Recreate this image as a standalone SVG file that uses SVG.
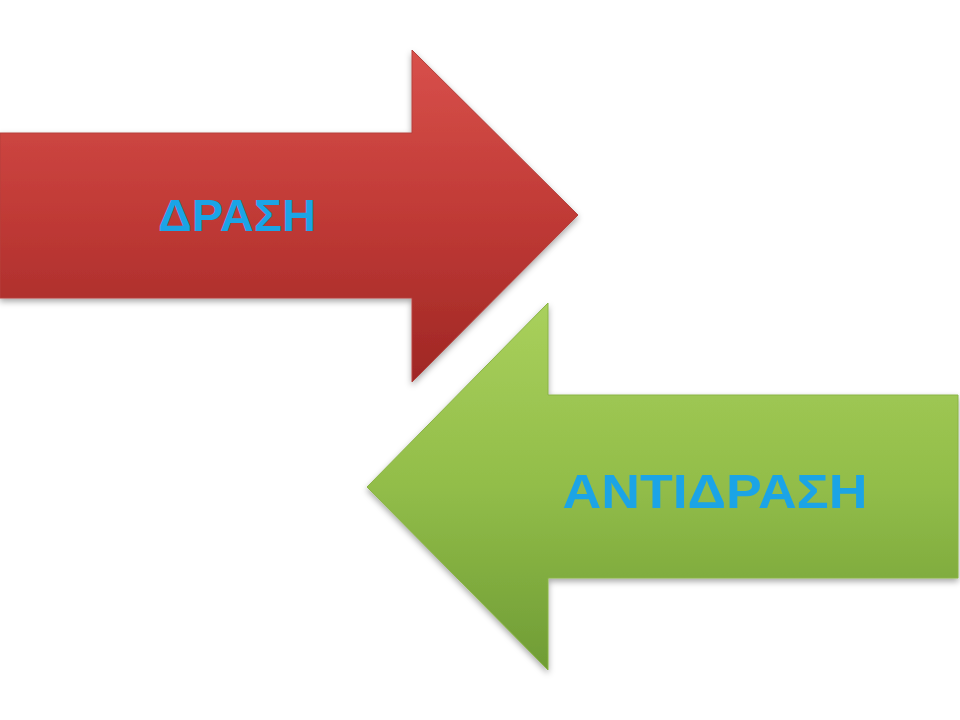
<svg xmlns="http://www.w3.org/2000/svg" width="960" height="720" viewBox="0 0 960 720">
<defs>
<linearGradient id="gr" x1="0" y1="0" x2="0" y2="1"><stop offset="0" stop-color="#d8504b"/><stop offset="0.5" stop-color="#c03a36"/><stop offset="1" stop-color="#9f2724"/></linearGradient>
<linearGradient id="gg" x1="0" y1="0" x2="0" y2="1"><stop offset="0" stop-color="#a9d05c"/><stop offset="0.5" stop-color="#92bd49"/><stop offset="1" stop-color="#6f9c35"/></linearGradient>
<filter id="sh" x="-10%" y="-10%" width="120%" height="130%"><feDropShadow dx="0" dy="3" stdDeviation="3" flood-color="#000" flood-opacity="0.35"/></filter>
<style>.t{font-family:"Liberation Sans","Open Sans",sans-serif;font-weight:bold;fill:#1ba4e6;text-anchor:middle}</style>
</defs>
<rect width="960" height="720" fill="#fff"/>
<g id="drasi">
<path d="M0,133 H412 V50 L578,215 L412,382 V298 H0 Z" fill="url(#gr)" stroke="#b5403c" stroke-width="1" filter="url(#sh)"/>
<text class="t" x="237" y="231" font-size="44" textLength="158" lengthAdjust="spacingAndGlyphs">ΔΡΑΣΗ</text>
</g>
<g id="antidrasi">
<path d="M958,395 H548 V303 L367,487 L548,670 V578 H958 Z" fill="url(#gg)" stroke="#8ab446" stroke-width="1" filter="url(#sh)"/>
<text class="t" x="715" y="508" font-size="48" textLength="305" lengthAdjust="spacingAndGlyphs">ΑΝΤΙΔΡΑΣΗ</text>
</g>
<g id="connectors"/>
</svg>
